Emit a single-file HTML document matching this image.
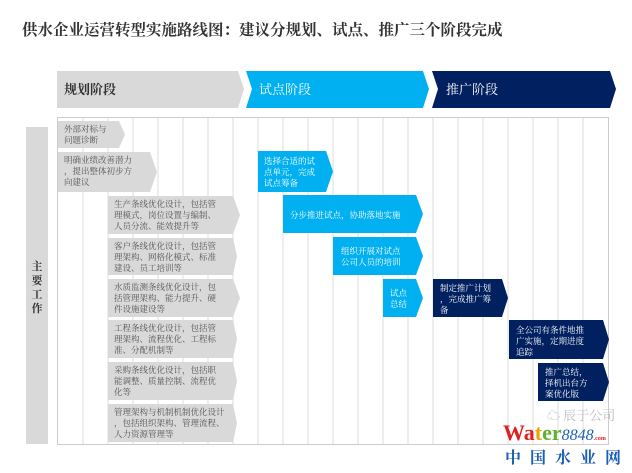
<!DOCTYPE html>
<html><head><meta charset="utf-8"><style>
body{margin:0;background:#fff;width:632px;height:468px;overflow:hidden}
svg text{font-family:"Liberation Serif","Noto Serif CJK SC",serif}
</style></head><body>
<svg width="632" height="468" viewBox="0 0 632 468" xmlns="http://www.w3.org/2000/svg">
<text x="22" y="35" font-size="15.5" font-weight="bold" fill="#333">供水企业运营转型实施路线图：建议分规划、试点、推广三个阶段完成</text>
<polygon points="57,71 238,71 244,89 238,108 57,108" fill="#d9d9d9"/>
<polygon points="246,71 423,71 429,89 423,108 246,108 252,89" fill="#00b0f0"/>
<polygon points="432,71 610,71 616,89 610,108 432,108 438,89" fill="#002060"/>
<text x="64" y="94" font-size="13" font-weight="bold" fill="#333">规划阶段</text>
<text x="259" y="94" font-size="13" fill="#fff">试点阶段</text>
<text x="446" y="94" font-size="13" fill="#fff">推广阶段</text>
<rect x="57.5" y="117.5" width="551" height="327" fill="none" stroke="#ccc"/>
<g stroke="#ddd" stroke-width="1">
<line x1="83" y1="118" x2="83" y2="444"/><line x1="108" y1="118" x2="108" y2="444"/><line x1="133" y1="118" x2="133" y2="444"/><line x1="158" y1="118" x2="158" y2="444"/><line x1="183" y1="118" x2="183" y2="444"/><line x1="208" y1="118" x2="208" y2="444"/><line x1="233" y1="118" x2="233" y2="444"/><line x1="258" y1="118" x2="258" y2="444"/><line x1="283" y1="118" x2="283" y2="444"/><line x1="308" y1="118" x2="308" y2="444"/><line x1="333" y1="118" x2="333" y2="444"/><line x1="358" y1="118" x2="358" y2="444"/><line x1="383" y1="118" x2="383" y2="444"/><line x1="408" y1="118" x2="408" y2="444"/><line x1="433" y1="118" x2="433" y2="444"/><line x1="458" y1="118" x2="458" y2="444"/><line x1="483" y1="118" x2="483" y2="444"/><line x1="508" y1="118" x2="508" y2="444"/><line x1="533" y1="118" x2="533" y2="444"/><line x1="558" y1="118" x2="558" y2="444"/><line x1="583" y1="118" x2="583" y2="444"/>
</g>
<rect x="26" y="127" width="22" height="317" fill="#d9d9d9"/>
<g font-size="11" fill="#333" font-weight="bold" text-anchor="middle">
<text x="37" y="270">主</text><text x="37" y="284">要</text><text x="37" y="298">工</text><text x="37" y="312">作</text></g>
<g fill="#d9d9d9">
<polygon points="58,121 119,121 125,134.5 119,148 58,148"/>
<polygon points="58,152 150,152 157,172 150,192 58,192"/>
<polygon points="108,196 233,196 240,215 233,234 108,234"/>
<polygon points="108,238 233,238 237,256 233,275 108,275"/>
<polygon points="108,279 233,279 240,298 233,317 108,317"/>
<polygon points="108,320 233,320 237,339 233,358 108,358"/>
<polygon points="108,362 233,362 237,381 233,400 108,400"/>
<polygon points="108,404 233,404 237,423 233,442 108,442"/>
</g>
<g font-size="8.5" fill="#555">
<text x="64" y="132">外部对标与</text><text x="64" y="143">问题诊断</text>
<text x="64" y="163">明确业绩改善潜力</text><text x="64" y="174">，提出整体初步方</text><text x="64" y="185">向建议</text>
<text x="114" y="207">生产条线优化设计，包括管</text><text x="114" y="218">理模式，岗位设置与编制、</text><text x="114" y="229">人员分流、能效提升等</text>
<text x="114" y="249">客户条线优化设计，包括管</text><text x="114" y="260">理架构、网格化模式、标准</text><text x="114" y="271">建设、员工培训等</text>
<text x="114" y="290">水质监测条线优化设计，包</text><text x="114" y="301">括管理架构、能力提升、硬</text><text x="114" y="312">件设施建设等</text>
<text x="114" y="331">工程条线优化设计，包括管</text><text x="114" y="342">理架构、流程优化、工程标</text><text x="114" y="353">准、分配机制等</text>
<text x="114" y="373">采购条线优化设计，包括职</text><text x="114" y="384">能调整、质量控制、流程优</text><text x="114" y="395">化等</text>
<text x="114" y="415">管理架构与机制机制优化设计</text><text x="114" y="426">，包括组织架构、管理流程、</text><text x="114" y="437">人力资源管理等</text>
</g>
<g fill="#00b0f0">
<polygon points="258,151 326,151 333,171.5 326,192 258,192"/>
<polygon points="283,195 416,195 423,214 416,233 283,233"/>
<polygon points="333,237 416,237 423,256 416,275 333,275"/>
<polygon points="383,279 416,279 423,298 416,317 383,317"/>
</g>
<g fill="#002060">
<polygon points="433,279 502,279 508,298 502,317 433,317"/>
<polygon points="509,320 603,320 609,339.5 603,359 509,359"/>
<polygon points="538,363 603,363 609,382 603,401 538,401"/>
</g>
<g font-size="8.5" fill="#fff">
<text x="264" y="164">选择合适的试</text><text x="264" y="175">点单元，完成</text><text x="264" y="186">试点筹备</text>
<text x="290" y="218">分步推进试点，协助落地实施</text>
<text x="341" y="254">组织开展对试点</text><text x="341" y="265">公司人员的培训</text>
<text x="390" y="296">试点</text><text x="390" y="307">总结</text>
<text x="440" y="291">制定推广计划</text><text x="440" y="302">，完成推广筹</text><text x="440" y="313">备</text>
<text x="516" y="333">全公司有条件地推</text><text x="516" y="344">广实施，定期进度</text><text x="516" y="355">追踪</text>
<text x="545" y="375">推广总结，</text><text x="545" y="386">择机出台方</text><text x="545" y="397">案优化版</text>
</g>
<text x="547" y="420" font-size="13" fill="#bbb" font-family="Liberation Sans,Noto Sans CJK SC,sans-serif">☁ 辰于公司</text>
<text x="503" y="440" font-size="22" font-weight="bold" font-family="Liberation Sans,sans-serif"><tspan fill="#e02020">Wa</tspan><tspan fill="#f0a000">t</tspan><tspan fill="#60b030">er</tspan><tspan fill="#1a5fb4" font-style="italic" font-weight="normal" font-size="16">8848</tspan><tspan fill="#e02020" font-size="6">.com</tspan></text>
<text x="505" y="463" font-size="16" fill="#1a5fb4" font-weight="bold" letter-spacing="9" font-family="Liberation Sans,Noto Sans CJK SC,sans-serif">中国水业网</text>
</svg>
</body></html>
